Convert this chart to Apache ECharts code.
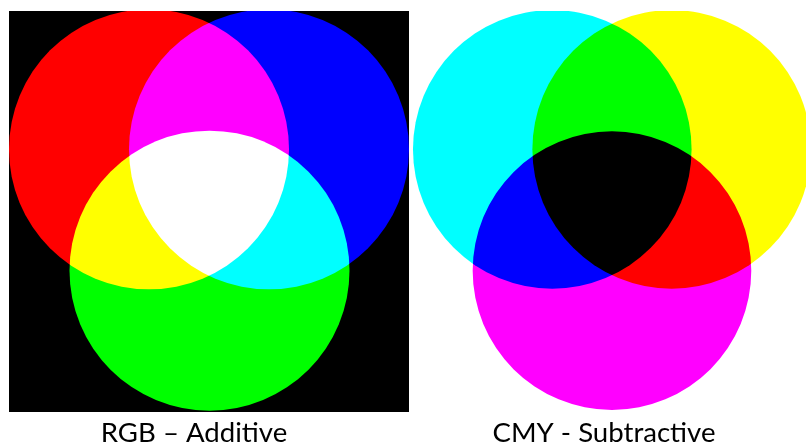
<!DOCTYPE html>
<html>
<head>
<meta charset="utf-8">
<script src="https://cdn.jsdelivr.net/npm/echarts@6/dist/echarts.min.js"></script>
<style>
  html, body { margin: 0; padding: 0; background: #fff; }
  #chart { width: 806px; height: 445px; }
</style>
</head>
<body>
<div id="chart"></div>
<script>
// panel units: 0..400 on both axes, y pointing up
const rgbNames = ['Red', 'Blue', 'Green']
const rgbColors = ['#ff0000', '#0000ff', '#00ff00']
const rgbX = [140, 260, 200.5]
const rgbY = [262, 262, 141]
const rgbR = [140, 140, 140]

const cmyNames = ['Cyan', 'Yellow', 'Magenta']
const cmyColors = ['#00ffff', '#ffff00', '#ff00ff']
const cmyX = [145, 265, 205]
const cmyY = [262, 262, 141]
const cmyR = [140, 140, 140]

const panelLabels = ['RGB – Additive', 'CMY - Subtractive']

const chart = echarts.init(document.getElementById('chart'))

// circle drawn from data units, radius scaled by the axis
const circleItem = (colors) => (params, api) => {
  const c = api.coord([api.value(0), api.value(1)])
  const r = api.size([api.value(2), 0])[0]
  return {
    type: 'circle',
    shape: { cx: c[0], cy: c[1], r: r },
    style: { fill: colors[params.dataIndex] }
  }
}

const axisOff = { type: 'value', min: 0, max: 400, show: false }

chart.setOption({
  backgroundColor: '#fff',
  animation: false,
  grid: [
    { left: 9, top: 11, width: 400, height: 401, show: true, backgroundColor: '#000', borderWidth: 0 },
    { left: 408, top: 11, width: 400, height: 401, show: false }
  ],
  xAxis: [
    Object.assign({ gridIndex: 0 }, axisOff),
    Object.assign({ gridIndex: 1 }, axisOff)
  ],
  yAxis: [
    Object.assign({ gridIndex: 0 }, axisOff),
    Object.assign({ gridIndex: 1 }, axisOff)
  ],
  graphic: [
    {
      type: 'text', x: 194, y: 433, silent: true,
      style: {
        text: panelLabels[0], textAlign: 'center', textVerticalAlign: 'middle',
        font: '27.6px Lato', fill: '#000'
      }
    },
    {
      type: 'text', x: 604, y: 433, silent: true,
      style: {
        text: panelLabels[1], textAlign: 'center', textVerticalAlign: 'middle',
        font: '27.6px Lato', fill: '#000'
      }
    }
  ],
  series: [
    {
      name: 'RGB',
      type: 'custom',
      xAxisIndex: 0,
      yAxisIndex: 0,
      clip: true,
      silent: true,
      blendMode: 'lighter',
      renderItem: circleItem(rgbColors),
      data: rgbNames.map((n, i) => ({ name: n, value: [rgbX[i], rgbY[i], rgbR[i]] }))
    },
    {
      name: 'CMY',
      type: 'custom',
      xAxisIndex: 1,
      yAxisIndex: 1,
      clip: true,
      silent: true,
      blendMode: 'multiply',
      renderItem: circleItem(cmyColors),
      data: cmyNames.map((n, i) => ({ name: n, value: [cmyX[i], cmyY[i], cmyR[i]] }))
    }
  ]
})
</script>
</body>
</html>
